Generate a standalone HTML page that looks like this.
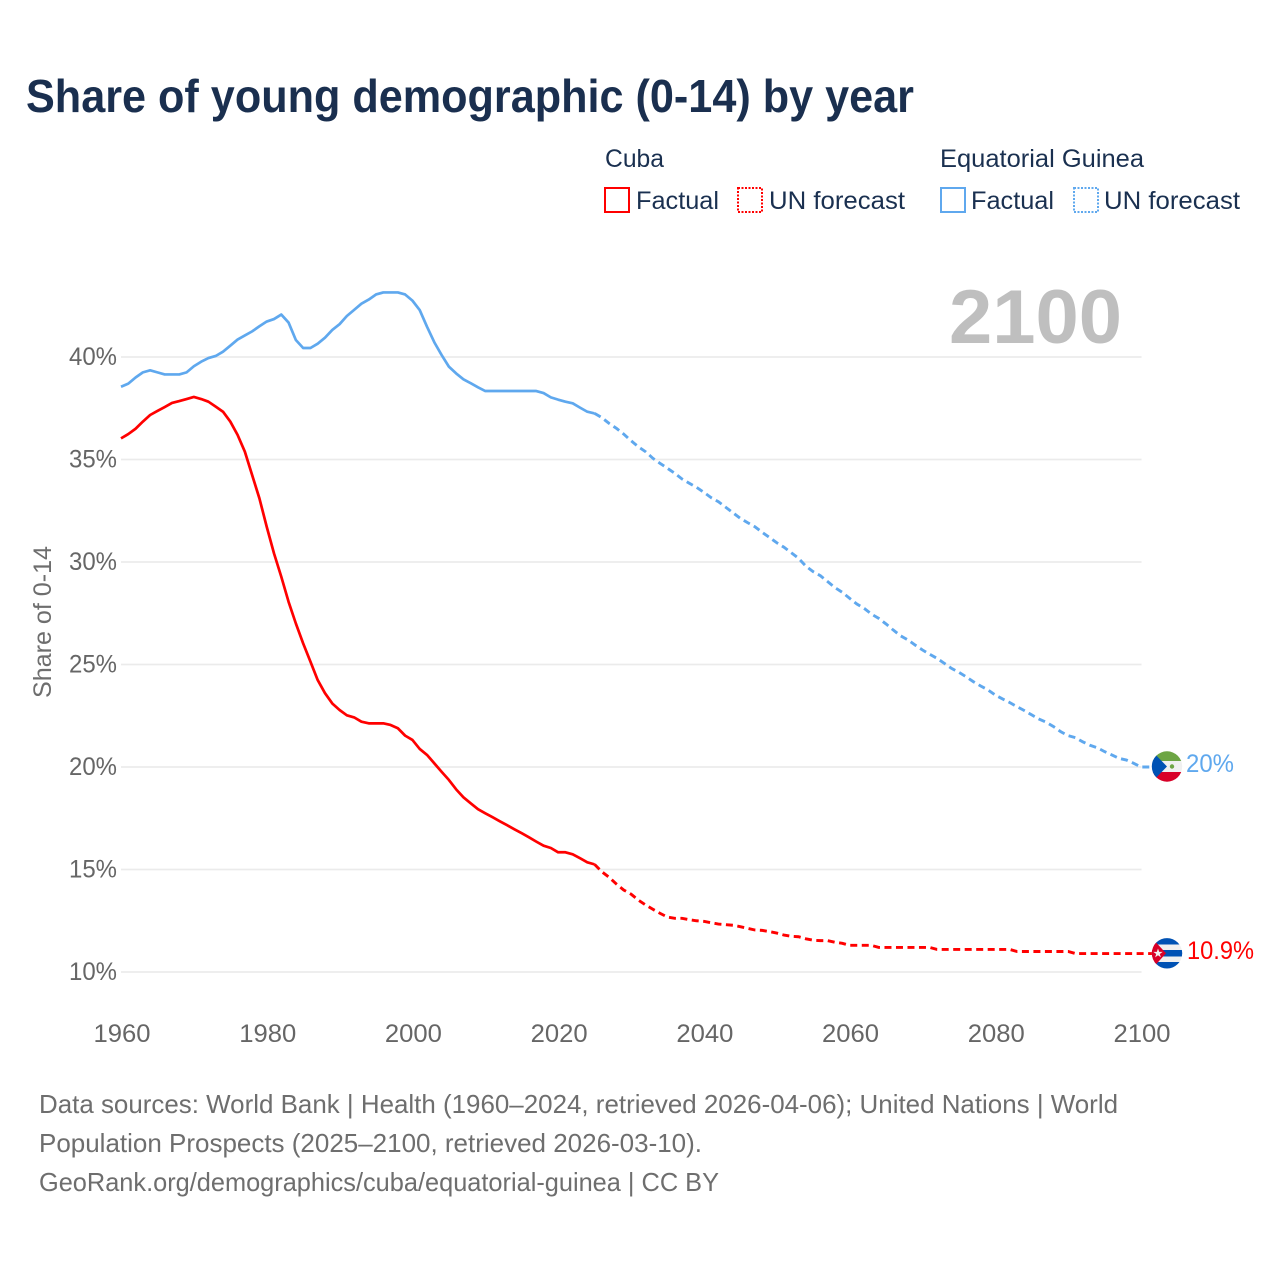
<!DOCTYPE html>
<html lang="en">
<head>
<meta charset="utf-8">
<title>Share of young demographic (0-14) by year</title>
<style>
html,body{margin:0;padding:0;background:#fff;}
svg{display:block;font-family:"Liberation Sans",sans-serif;}
</style>
</head>
<body>
<svg id="chart" xmlns="http://www.w3.org/2000/svg" width="1280" height="1280" viewBox="0 0 1280 1280">
  <rect x="0" y="0" width="1280" height="1280" fill="#ffffff"/>
  <text x="26" y="112" font-size="46" font-weight="700" fill="#1a2f4f" textLength="888" lengthAdjust="spacingAndGlyphs">Share of young demographic (0-14) by year</text>

  <g font-size="25" fill="#1a3050">
    <text x="605" y="167" textLength="59" lengthAdjust="spacingAndGlyphs">Cuba</text>
    <text x="940" y="167" textLength="204" lengthAdjust="spacingAndGlyphs">Equatorial Guinea</text>
    <rect x="605" y="188" width="24" height="24" fill="none" stroke="#ff0000" stroke-width="2"/>
    <text x="636" y="209" textLength="83" lengthAdjust="spacingAndGlyphs">Factual</text>
    <rect x="738" y="188" width="24" height="24" fill="none" stroke="#ff0000" stroke-width="2" stroke-dasharray="2 1.5"/>
    <text x="769" y="209" textLength="136" lengthAdjust="spacingAndGlyphs">UN forecast</text>
    <rect x="941" y="188" width="24" height="24" fill="none" stroke="#5fa8ee" stroke-width="2"/>
    <text x="971" y="209" textLength="83" lengthAdjust="spacingAndGlyphs">Factual</text>
    <rect x="1074" y="188" width="24" height="24" fill="none" stroke="#5fa8ee" stroke-width="2" stroke-dasharray="2 1.5"/>
    <text x="1104" y="209" textLength="136" lengthAdjust="spacingAndGlyphs">UN forecast</text>
  </g>

  <g id="grid"></g>
  <text x="949" y="343" font-size="76" font-weight="700" fill="#bfbfbf" textLength="173" lengthAdjust="spacingAndGlyphs">2100</text>
  <g id="yaxis"></g>
  <g id="xaxis"></g>
  <text transform="translate(51 622) rotate(-90)" text-anchor="middle" font-size="25" fill="#6e6e6e" textLength="152" lengthAdjust="spacingAndGlyphs">Share of 0-14</text>
  <g id="series"></g>

  <defs>
    <clipPath id="clip-gq"><circle cx="1167" cy="766.5" r="15.2"/></clipPath>
    <clipPath id="clip-cu"><circle cx="1167" cy="953.3" r="15.2"/></clipPath>
  </defs>
  <g clip-path="url(#clip-gq)">
    <rect x="1151" y="751" width="32" height="31" fill="#f0f0f0"/>
    <rect x="1151" y="751" width="32" height="10" fill="#6da544"/>
    <rect x="1151" y="772" width="32" height="10" fill="#d80027"/>
    <path d="M1151 750L1167 766.5L1151 783Z" fill="#0052b4"/>
    <circle cx="1172" cy="766.5" r="2.2" fill="#6da544"/>
  </g>
  <g clip-path="url(#clip-cu)">
    <rect x="1151" y="938" width="32" height="31" fill="#f0f0f0"/>
    <rect x="1151" y="938" width="32" height="6.5" fill="#0052b4"/>
    <rect x="1151" y="950" width="32" height="6.5" fill="#0052b4"/>
    <rect x="1151" y="962" width="32" height="7" fill="#0052b4"/>
    <path d="M1151 937L1166 953.3L1151 970Z" fill="#d80027"/>
    <path d="M1158 948.5l1.2 3.4h3.5l-2.9 2.1 1.1 3.4-2.9-2.1-2.9 2.1 1.1-3.4-2.9-2.1h3.5Z" fill="#f0f0f0"/>
  </g>
  <text x="1186" y="772" font-size="25" fill="#5fa8ee" textLength="48" lengthAdjust="spacingAndGlyphs">20%</text>
  <text x="1187" y="959" font-size="25" fill="#ff0000" textLength="67" lengthAdjust="spacingAndGlyphs">10.9%</text>

  <g font-size="26" fill="#6e6e6e">
    <text x="39" y="1113" textLength="1079" lengthAdjust="spacingAndGlyphs">Data sources: World Bank | Health (1960–2024, retrieved 2026-04-06); United Nations | World</text>
    <text x="39" y="1152" textLength="663" lengthAdjust="spacingAndGlyphs">Population Prospects (2025–2100, retrieved 2026-03-10).</text>
    <text x="39" y="1191" textLength="680" lengthAdjust="spacingAndGlyphs">GeoRank.org/demographics/cuba/equatorial-guinea | CC BY</text>
  </g>
</svg>
<script>
var yTicks = [10, 15, 20, 25, 30, 35, 40];
var xTicks = [1960, 1980, 2000, 2020, 2040, 2060, 2080, 2100];
var factualStartYear = 1960;
var forecastStartYear = 2025;
var cubaFactual = [36.03,36.24,36.5,36.85,37.17,37.37,37.56,37.76,37.85,37.95,
  38.05,37.95,37.82,37.58,37.33,36.85,36.2,35.38,34.24,33.1,
  31.72,30.42,29.28,28.06,27.0,26.03,25.14,24.24,23.6,23.1,
  22.78,22.52,22.42,22.21,22.13,22.13,22.13,22.05,21.89,21.53,
  21.32,20.88,20.59,20.18,19.77,19.37,18.91,18.52,18.23,17.94,
  17.74,17.55,17.35,17.16,16.96,16.77,16.57,16.36,16.16,16.05,
  15.84,15.84,15.74,15.55,15.35,15.25];
var cubaForecast = [15.25,14.89,14.62,14.29,14.0,13.8,13.51,13.27,13.06,12.86,
  12.68,12.62,12.62,12.55,12.5,12.47,12.4,12.34,12.31,12.28,
  12.21,12.13,12.05,12.03,11.97,11.9,11.8,11.74,11.72,11.62,
  11.55,11.53,11.53,11.45,11.4,11.3,11.3,11.3,11.3,11.2,
  11.2,11.2,11.2,11.2,11.2,11.2,11.2,11.1,11.1,11.1,
  11.1,11.1,11.1,11.1,11.1,11.1,11.1,11.1,11.0,11.0,
  11.0,11.0,11.0,11.0,11.0,11.0,10.9,10.9,10.9,10.9,
  10.9,10.9,10.9,10.9,10.9,10.9];
var guineaFactual = [38.55,38.7,39.0,39.25,39.35,39.25,39.15,39.15,39.15,39.25,
  39.55,39.77,39.95,40.05,40.26,40.55,40.85,41.05,41.25,41.5,
  41.73,41.85,42.07,41.68,40.83,40.44,40.44,40.65,40.94,41.32,
  41.6,42.0,42.3,42.6,42.8,43.05,43.15,43.15,43.15,43.05,
  42.75,42.29,41.48,40.72,40.1,39.53,39.2,38.91,38.72,38.52,
  38.34,38.34,38.34,38.34,38.34,38.34,38.34,38.34,38.24,38.03,
  37.92,37.82,37.74,37.53,37.33,37.25];
var guineaForecast = [37.25,37.04,36.76,36.52,36.24,35.92,35.62,35.38,35.06,34.81,
  34.57,34.33,34.05,33.84,33.64,33.4,33.14,32.94,32.67,32.4,
  32.13,31.92,31.72,31.45,31.2,30.94,30.72,30.45,30.18,29.8,
  29.53,29.33,29.04,28.75,28.52,28.23,27.95,27.74,27.46,27.25,
  26.98,26.68,26.4,26.2,25.95,25.71,25.5,25.3,25.06,24.81,
  24.62,24.4,24.16,23.95,23.76,23.51,23.32,23.14,22.94,22.75,
  22.54,22.34,22.18,21.97,21.72,21.53,21.43,21.23,21.06,20.94,
  20.75,20.59,20.42,20.34,20.18,20.0];

var NS = 'http://www.w3.org/2000/svg';
function xScale(year) { return 121 + (year - 1960) * (1141 - 121) / 140; }
function yScale(value) { return 972 - (value - 10) * 20.5; }

var gridGroup = document.getElementById('grid');
var yAxisGroup = document.getElementById('yaxis');
var xAxisGroup = document.getElementById('xaxis');
var seriesGroup = document.getElementById('series');

yTicks.forEach(function (tick) {
  var line = document.createElementNS(NS, 'line');
  
  
  line.setAttribute('x1', 121);
  line.setAttribute('x2', 1141.5);
  line.setAttribute('y1', yScale(tick));
  line.setAttribute('y2', yScale(tick));
  line.setAttribute('stroke', '#ebebeb');
  line.setAttribute('stroke-width', 1.8);
  gridGroup.appendChild(line);

  var label = document.createElementNS(NS, 'text');
  
  
  label.setAttribute('x', 117);
  label.setAttribute('y', yScale(tick) + 8);
  label.setAttribute('text-anchor', 'end');
  label.setAttribute('font-size', 25);
  label.setAttribute('fill', '#666666');
  label.setAttribute('textLength', 48);
  label.setAttribute('lengthAdjust', 'spacingAndGlyphs');
  label.textContent = tick + '%';
  yAxisGroup.appendChild(label);
});

xTicks.forEach(function (tick) {
  var label = document.createElementNS(NS, 'text');
  
  
  label.setAttribute('x', xScale(tick) + 1);
  label.setAttribute('y', 1042);
  label.setAttribute('text-anchor', 'middle');
  label.setAttribute('font-size', 25);
  label.setAttribute('fill', '#666666');
  label.setAttribute('textLength', 57);
  label.setAttribute('lengthAdjust', 'spacingAndGlyphs');
  label.textContent = tick;
  xAxisGroup.appendChild(label);
});

function buildPoints(values, startYear) {
  return values.map(function (value, index) {
    return xScale(startYear + index).toFixed(2) + ',' + yScale(value).toFixed(2);
  }).join(' ');
}

function addFactual(values, color, name) {
  var line = document.createElementNS(NS, 'polyline');
  
  
  line.setAttribute('points', buildPoints(values, factualStartYear));
  line.setAttribute('fill', 'none');
  line.setAttribute('stroke', color);
  line.setAttribute('stroke-width', 2.7);
  line.setAttribute('stroke-linejoin', 'round');
  seriesGroup.appendChild(line);
}

function addForecast(values, color, name) {
  var line = document.createElementNS(NS, 'polyline');
  var last = values[values.length - 1];
  
  
  line.setAttribute('points', buildPoints(values, forecastStartYear) + ' 1152,' + yScale(last).toFixed(2));
  line.setAttribute('fill', 'none');
  line.setAttribute('stroke', color);
  line.setAttribute('stroke-width', 2.9);
  line.setAttribute('stroke-dasharray', '7 4.5');
  seriesGroup.appendChild(line);
}

addFactual(guineaFactual, '#5fa8ee', 'equatorial-guinea-factual-line');
addForecast(guineaForecast, '#5fa8ee', 'equatorial-guinea-forecast-line');
addFactual(cubaFactual, '#ff0000', 'cuba-factual-line');
addForecast(cubaForecast, '#ff0000', 'cuba-forecast-line');
</script>
</body>
</html>
